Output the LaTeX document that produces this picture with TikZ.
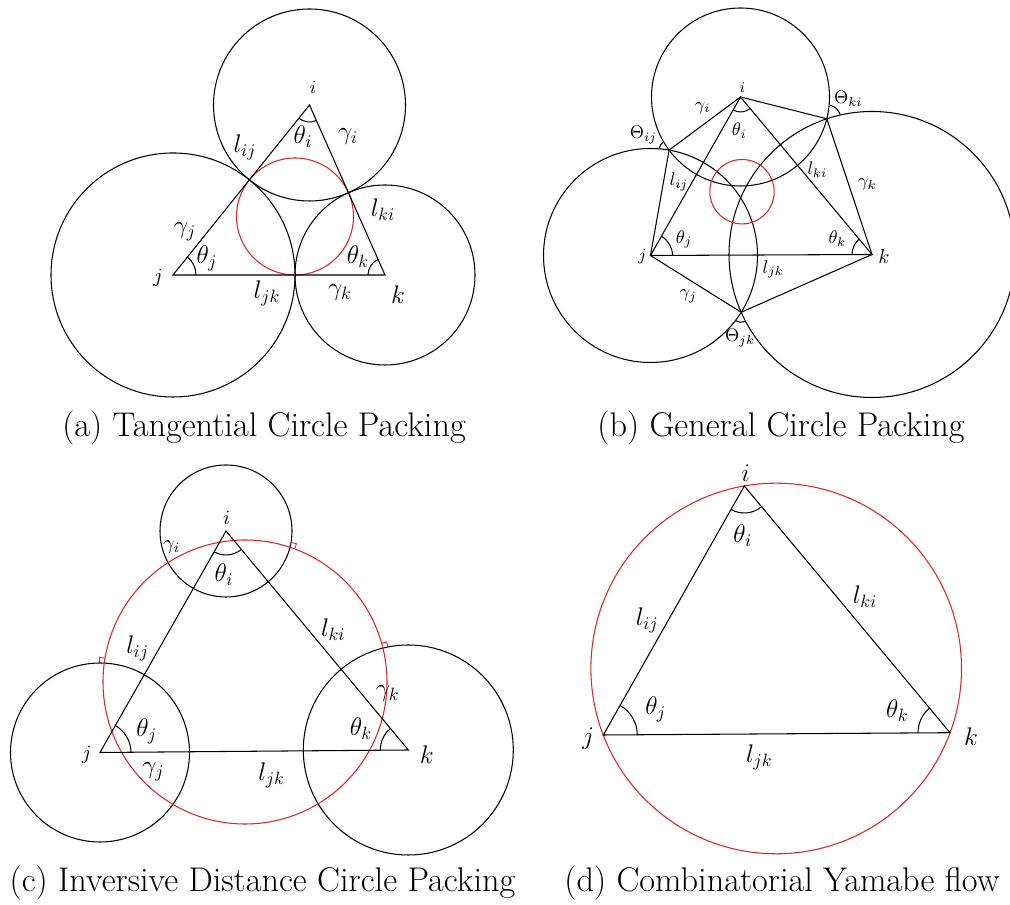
\RequirePackage{fix-cm}
\documentclass[tikz,border=0pt]{standalone}
\usetikzlibrary{angles,calc}
\definecolor{cred}{RGB}{225,35,35}
\begin{document}
\begin{tikzpicture}[x=0.02cm,y=0.02cm,line width=0.6pt,
  lbl/.style={font=\fontsize{14.5}{17}\selectfont,inner sep=0pt},
  lblm/.style={font=\fontsize{11.5}{13}\selectfont,inner sep=0pt},
  lbls/.style={font=\fontsize{10.4}{12}\selectfont,inner sep=0pt},
  lblb/.style={font=\fontsize{9.5}{11}\selectfont,inner sep=0pt},
  lblt/.style={font=\fontsize{8.5}{10}\selectfont,inner sep=0pt},
  captxt/.style={font=\fontsize{19.5}{23}\selectfont,inner sep=0pt},
  redc/.style={draw=cred},
  ang/.style={draw,line width=0.6pt}]
\useasboundingbox (0,0) rectangle (1010,905);

% ---------------- (a) Tangential ----------------
\coordinate (ai) at (309.5,800);
\coordinate (aj) at (173,630);
\coordinate (ak) at (385,630);
\coordinate (ao) at (295,688.5);
\draw (ai) circle[radius=96];
\draw (aj) circle[radius=122];
\draw (ak) circle[radius=90];
\draw[redc] (ao) circle[radius=58.5];
\draw (ai) -- (aj) -- (ak) -- cycle;
\pic[ang,angle radius=0.34cm] {angle=aj--ai--ak};
\pic[ang,angle radius=0.46cm] {angle=ak--aj--ai};
\pic[ang,angle radius=0.34cm] {angle=ai--ak--aj};
\node[lbls] (ali) at (313,818) {$i$};
\node[lblm] (alj) at (158,627) {$j$};
\node[lbl] (alk) at (398,610) {$k$};
\node[lbl] (ati) at (303,768) {$\theta_i$};
\node[lbl] (agi) at (348,768) {$\gamma_i$};
\node[lbl] (alij) at (245,758) {$l_{ij}$};
\node[lbl] (alki) at (383,695) {$l_{ki}$};
\node[lbl] (agj) at (185,673) {$\gamma_j$};
\node[lbl] (atj) at (207,647) {$\theta_j$};
\node[lbl] (aljk) at (267,612) {$l_{jk}$};
\node[lbl] (agk) at (340,612) {$\gamma_k$};
\node[lbl] (atk) at (358,648) {$\theta_k$};
\node[captxt] (capa) at (264,477) {(a) Tangential Circle Packing};

% ---------------- (b) General ----------------
\coordinate (bi) at (740.5,808);
\coordinate (bj) at (650.5,649.5);
\coordinate (bk) at (872,650.5);
\coordinate (Pij) at (669.1,754.9);
\coordinate (Pki) at (826.8,786.2);
\coordinate (Pjk) at (741.2,592.7);
\coordinate (bo) at (742,713.3);
\draw (bi) circle[radius=89];
\draw (bj) circle[radius=107];
\draw (bk) circle[radius=143];
\draw[redc] (bo) circle[radius=32.2];
\draw (bi) -- (bj) -- (bk) -- cycle;
\draw (bi) -- (Pij) -- (bj) -- (Pjk) -- (bk) -- (Pki) -- cycle;
\pic[ang,angle radius=0.30cm] {angle=bj--bi--bk};
\pic[ang,angle radius=0.44cm] {angle=bk--bj--bi};
\pic[ang,angle radius=0.40cm] {angle=bi--bk--bj};
\draw ($(Pij)+(126.6:10)$) arc[start angle=126.6,end angle=170,radius=10];
\draw ($(Pki)+(18.4:14)$) arc[start angle=18.4,end angle=75.8,radius=14];
\draw ($(Pjk)+(237.9:10)$) arc[start angle=237.9,end angle=293.8,radius=10];
\node[lblt] (bli) at (742.3,817) {$i$};
\node[lblb] (blj) at (642.3,648.3) {$j$};
\node[lblm] (blk) at (884,648.3) {$k$};
\node[lbls] (bgi) at (702.7,797) {$\gamma_i$};
\node[lbls] (bti) at (739.3,774.3) {$\theta_i$};
\node[lbls] (bTij) at (643.3,770) {$\Theta_{ij}$};
\node[lbls] (bTki) at (848.3,806) {$\Theta_{ki}$};
\node[lbls] (blij) at (679,723.3) {$l_{ij}$};
\node[lbls] (blki) at (817.3,735.7) {$l_{ki}$};
\node[lbls] (bgk) at (867.3,720.7) {$\gamma_k$};
\node[lbls] (btj) at (684,665.7) {$\theta_j$};
\node[lbls] (btk) at (837.3,666.7) {$\theta_k$};
\node[lbls] (bljk) at (773.3,635.7) {$l_{jk}$};
\node[lbls] (bgj) at (688.3,609) {$\gamma_j$};
\node[lbls] (bTjk) at (740,566.7) {$\Theta_{jk}$};
\node[captxt] (capb) at (781,477) {(b) General Circle Packing};

% ---------------- (c) Inversive distance ----------------
\coordinate (ci) at (226,374);
\coordinate (cj) at (100,152.5);
\coordinate (ck) at (408.3,155);
\coordinate (co) at (245,223);
\coordinate (Q1) at (290,357.7);
\coordinate (Q2) at (104.3,241.9);
\coordinate (Q3) at (382.9,256.9);
\draw (ci) circle[radius=66];
\draw (cj) circle[radius=89.5];
\draw (ck) circle[radius=105];
\draw[redc] (co) circle[radius=142];
\draw[redc,line width=0.5pt] (Q1) ++(4.85,-1.2) -- ++(1.58,4.75) -- ++(-4.85,1.2);
\draw[redc,line width=0.5pt] (Q2) ++(0.24,5) -- ++(-4.95,0.66) -- ++(-0.24,-5);
\draw[redc,line width=0.5pt] (Q3) ++(-1.21,4.85) -- ++(4.86,1.2) -- ++(1.21,-4.85);
\draw (ci) -- (cj) -- (ck) -- cycle;
\pic[ang,angle radius=0.48cm] {angle=cj--ci--ck};
\pic[ang,angle radius=0.62cm] {angle=ck--cj--ci};
\pic[ang,angle radius=0.56cm] {angle=ci--ck--cj};
\node[lblm] (cli) at (226.7,386.7) {$i$};
\node[lblm] (clj) at (86.7,150) {$j$};
\node[lbl] (clk) at (426.7,150) {$k$};
\node[lblm] (cgi) at (171.7,358.3) {$\gamma_i$};
\node[lbl] (cti) at (224,330) {$\theta_i$};
\node[lbl] (clij) at (137.7,256.7) {$l_{ij}$};
\node[lbl] (clki) at (333.3,275) {$l_{ki}$};
\node[lbl] (cgk) at (387.7,211.7) {$\gamma_k$};
\node[lbl] (ctj) at (146.7,173.3) {$\theta_j$};
\node[lbl] (ctk) at (361,176.7) {$\theta_k$};
\node[lbl] (cgj) at (153.3,133.3) {$\gamma_j$};
\node[lbl] (cljk) at (271.7,130) {$l_{jk}$};
\node[captxt] (capc) at (262.5,22) {(c) Inversive Distance Circle Packing};

% ---------------- (d) Yamabe ----------------
\coordinate (di) at (744.3,419);
\coordinate (dj) at (603.3,170);
\coordinate (dk) at (950,172.3);
\coordinate (do) at (776.2,236.5);
\draw[redc] (do) circle[radius=185.3];
\draw (di) -- (dj) -- (dk) -- cycle;
\pic[ang,angle radius=0.54cm] {angle=dj--di--dk};
\pic[ang,angle radius=0.68cm] {angle=dk--dj--di};
\pic[ang,angle radius=0.64cm] {angle=di--dk--dj};
\node[lbl] (dli) at (745.7,432.3) {$i$};
\node[lbl] (dlj) at (588.3,166.7) {$j$};
\node[lbl] (dlk) at (971,168.3) {$k$};
\node[lbl] (dti) at (742.7,369) {$\theta_i$};
\node[lbl] (dlij) at (647.3,285) {$l_{ij}$};
\node[lbl] (dlki) at (865,308.3) {$l_{ki}$};
\node[lbl] (dtj) at (655.7,195.7) {$\theta_j$};
\node[lbl] (dtk) at (897.3,194.3) {$\theta_k$};
\node[lbl] (dljk) at (759.3,147.3) {$l_{jk}$};
\node[captxt] (capd) at (782,22) {(d) Combinatorial Yamabe flow};
\end{tikzpicture}
\end{document}
